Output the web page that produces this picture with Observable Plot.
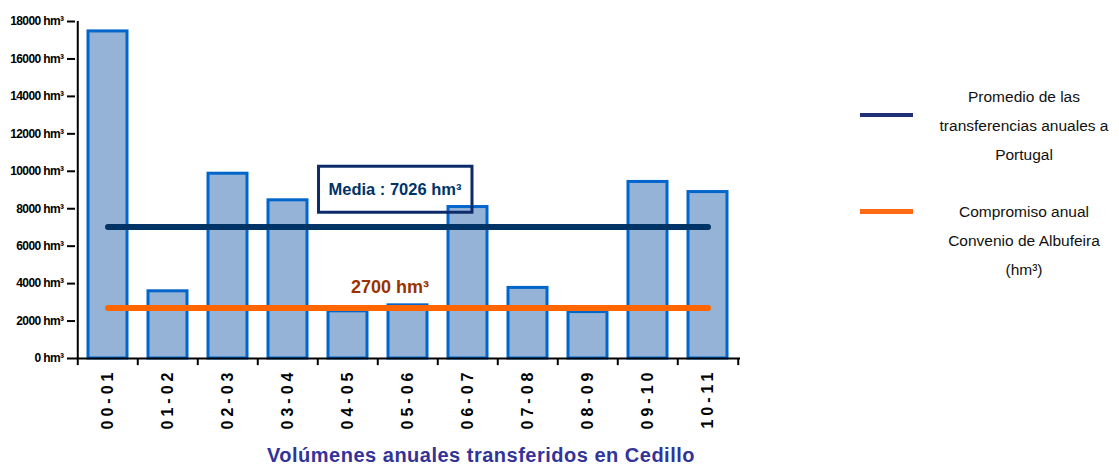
<!DOCTYPE html>
<html>
<head>
<meta charset="utf-8">
<script src="https://cdn.jsdelivr.net/npm/d3@7"></script>
<script src="https://cdn.jsdelivr.net/npm/@observablehq/plot@0.6"></script>
<style>
  html, body { margin: 0; padding: 0; background: #fff; }
  body { width: 1119px; height: 466px; overflow: hidden; position: relative; font-family: "Liberation Sans", Arial, sans-serif; }
  #chart { position: absolute; left: 0; top: 0; }
  #title { position: absolute; left: 0; top: 443px; width: 962px; text-align: center; font-weight: bold; font-size: 20px; letter-spacing: 0.5px; line-height: 24px; color: #333399; }
  .leg-swatch { position: absolute; left: 860px; width: 53px; }
  .leg-text { position: absolute; left: 926px; width: 196px; text-align: center; font-size: 15.5px; line-height: 29px; color: #111; font-family: "Liberation Sans", Arial, sans-serif; }
</style>
</head>
<body>
<div id="chart"></div>
<div id="title"></div>
<div class="leg-swatch" style="top:113px;height:4px;background:#1f2f78;"></div>
<div class="leg-text" id="leg1" style="top:82px;"></div>
<div class="leg-swatch" style="top:209px;height:5px;background:#ff6a13;"></div>
<div class="leg-text" id="leg2" style="top:197px;"></div>
<script>
// ---- data ----
const categories = ["00-01", "01-02", "02-03", "03-04", "04-05", "05-06", "06-07", "07-08", "08-09", "09-10", "10-11"];
const volumes = [17470, 3590, 9870, 8450, 2520, 2840, 8090, 3770, 2480, 9430, 8890];
const yTicks = [0, 2000, 4000, 6000, 8000, 10000, 12000, 14000, 16000, 18000];
const tickUnit = "hm³";
const meanValue = 7026;
const commitmentValue = 2700;
const meanLabel = "Media : 7026 hm³";
const commitmentLabel = "2700 hm³";
const titleText = "Volúmenes anuales transferidos en Cedillo";
const legendMean = ["Promedio de las", "transferencias anuales a", "Portugal"];
const legendCommit = ["Compromiso anual", "Convenio de Albufeira", "(hm³)"];

const rows = categories.map((c, i) => ({c, v: volumes[i]}));
const meanRows = [{c: categories[0], v: meanValue}, {c: categories[categories.length - 1], v: meanValue}];
const commitRows = [{c: categories[0], v: commitmentValue}, {c: categories[categories.length - 1], v: commitmentValue}];

const W = 1119, H = 436, mL = 75, mR = 379, mT = 21, mB = 78;
const step = (W - mL - mR) / categories.length;
const sans = "'Liberation Sans', Arial, sans-serif";

const chart = Plot.plot({
  width: W, height: H,
  marginLeft: mL, marginRight: mR, marginTop: mT, marginBottom: mB,
  style: {background: "#fff", color: "#000"},
  x: {domain: categories, paddingInner: 0.35, paddingOuter: 0.175, label: null},
  y: {domain: [0, 18000], label: null},
  marks: [
    Plot.barY(rows, {x: "c", y: "v", fill: "#95b3d7", stroke: "#0066cc", strokeWidth: 3}),
    Plot.lineY(meanRows, {x: "c", y: "v", stroke: "#003366", strokeWidth: 6}),
    Plot.lineY(commitRows, {x: "c", y: "v", stroke: "#ff6600", strokeWidth: 6}),
    Plot.text([{c: "05-06", v: meanValue}], {x: "c", y: "v", text: () => meanLabel, dx: -13, dy: -37,
      fill: "#003366", fontSize: 16.5, fontWeight: "bold", fontFamily: sans}),
    Plot.text([{c: "05-06", v: commitmentValue}], {x: "c", y: "v", text: () => commitmentLabel, dx: -18, dy: -21,
      fill: "#993300", fontSize: 18, fontWeight: "bold", fontFamily: sans}),
    Plot.ruleY([0], {stroke: "#000", strokeWidth: 2}),
    Plot.ruleX([categories[0]], {x: d => d, dx: -step / 2, y1: 0, y2: 18000, stroke: "#000", strokeWidth: 2}),
    Plot.ruleX(categories, {x: d => d, dx: -step / 2, y1: 0, y2: -380, stroke: "#000", strokeWidth: 2}),
    Plot.ruleX([categories[categories.length - 1]], {x: d => d, dx: step / 2, y1: 0, y2: -380, stroke: "#000", strokeWidth: 2}),
    Plot.axisY({ticks: yTicks, tickFormat: d => `${d} ${tickUnit}`, tickSize: 8, tickPadding: 4,
      strokeWidth: 2, fontSize: 12, fontWeight: "bold", fontFamily: sans}),
    Plot.axisX({tickSize: 0, tickRotate: -90, tickPadding: 10, fontSize: 16, fontFamily: sans})
  ]
});
document.getElementById("chart").appendChild(chart);

const svg = d3.select(chart);
// frame the mean annotation
svg.selectAll("text").filter(function () { return this.textContent === meanLabel; }).each(function () {
  const b = this.getBBox();
  d3.select(this.parentNode).insert("rect", () => this)
    .attr("transform", this.getAttribute("transform"))
    .attr("x", b.x - 10).attr("y", b.y + b.height / 2 - 23)
    .attr("width", b.width + 20).attr("height", 46)
    .attr("fill", "none").attr("stroke", "#0d2b6b").attr("stroke-width", 3);
});
// narrow y tick labels, spaced x tick labels
svg.selectAll("g[aria-label='y-axis tick label'] text").style("letter-spacing", "-0.6px");
svg.selectAll("g[aria-label='x-axis tick label'] text").style("letter-spacing", "4px").style("font-weight", "bold");

document.getElementById("title").textContent = titleText;
document.getElementById("leg1").innerHTML = legendMean.join("<br>");
document.getElementById("leg2").innerHTML = legendCommit.join("<br>");
</script>
</body>
</html>
